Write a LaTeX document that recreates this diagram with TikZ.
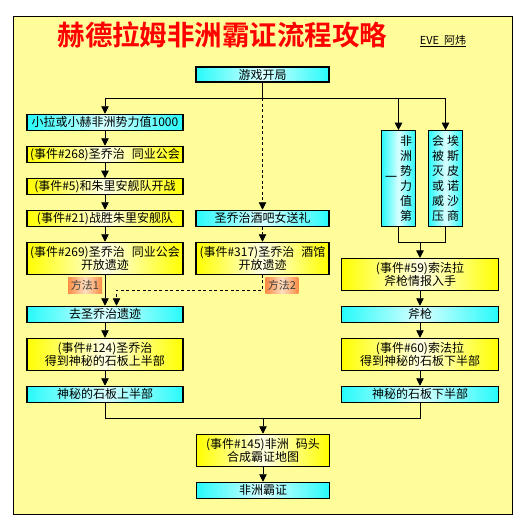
\documentclass[tikz,border=0pt]{standalone}
\usepackage{fontspec}
\setmainfont{Noto Sans CJK SC}
\newfontfamily\titlefont{Noto Sans CJK SC Bold}
\usetikzlibrary{arrows.meta,calc}
\definecolor{bgyel}{RGB}{255,253,153}
\definecolor{cyanA}{RGB}{40,250,250}
\definecolor{yelA}{RGB}{255,255,0}
\definecolor{orgA}{RGB}{250,140,70}
\tikzset{
  box/.style={draw=black,line width=1.1pt,inner sep=0pt,align=center,
    font=\fontsize{12}{13.5}\selectfont},
  cbox/.style={box,left color=cyanA,right color=cyanA,middle color=white!85!cyan},
  ybox/.style={box,left color=yelA,right color=yelA,middle color=white!90!yellow},
  tag/.style={inner sep=0pt,minimum width=34pt,minimum height=15.5pt,
    left color=orgA,right color=orgA,middle color=orange!25!white,
    font=\fontsize{11}{11}\selectfont,text=black!75},
  arr/.style={line width=0.9pt,-{Triangle[width=7.5pt,length=7.5pt]}},
  ln/.style={line width=0.9pt},
  dsh/.style={dash pattern=on 3pt off 2.5pt}
}
\begin{document}
\begin{tikzpicture}[x=1pt,y=-1pt]
\useasboundingbox (0,0) rectangle (526,531);
\fill[white] (0,0) rectangle (526,531);
\filldraw[fill=bgyel,draw=black,line width=0.9pt] (13,16) rectangle (512,514);
\node[text=red,font=\titlefont\fontsize{27.5}{28}\selectfont] (title) at (222.5,35) {赫德拉姆非洲霸证流程攻略};
\node[font=\fontsize{11}{11}\selectfont] (author) at (443,41) {\underline{EVE\ \ 阿炜}};

\node[cbox,minimum width=133pt,minimum height=15pt] (start) at (262.5,74.5) {游戏开局};

% left column
\node[cbox,minimum width=156pt,minimum height=16pt] (b1) at (105,122.3) {小拉或小赫非洲势力值1000};
\node[ybox,minimum width=156pt,minimum height=16pt] (b2) at (105,154.3) {(事件\#268)圣乔治\hspace{0.6em}同业公会};
\node[ybox,minimum width=156pt,minimum height=16pt] (b3) at (105,186.7) {(事件\#5)和朱里安舰队开战};
\node[ybox,minimum width=156pt,minimum height=16pt] (b4) at (105,218.3) {(事件\#21)战胜朱里安舰队};
\node[ybox,minimum width=156pt,minimum height=32pt] (b5) at (105,258.3) {(事件\#269)圣乔治\hspace{0.6em}同业公会\\开放遗迹};
\node[cbox,minimum width=156pt,minimum height=16pt] (g1) at (105,314.3) {去圣乔治遗迹};
\node[ybox,minimum width=156pt,minimum height=32pt] (g2) at (105,354.3) {(事件\#124)圣乔治\\得到神秘的石板上半部};
\node[cbox,minimum width=156pt,minimum height=16pt] (g3) at (105,394.3) {神秘的石板上半部};

% middle column
\node[cbox,minimum width=133pt,minimum height=16pt] (m1) at (262.5,218.3) {圣乔治酒吧女送礼};
\node[ybox,minimum width=133pt,minimum height=32pt] (m2) at (262.5,258.3) {(事件\#317)圣乔治\hspace{0.6em}酒馆\\开放遗迹};

% right column
\node[cbox,minimum width=34.4pt,minimum height=95.6pt] (v1) at (398.5,178.5) {%
  \begin{minipage}[c]{12pt}\centering 一\end{minipage}\hspace{3pt}%
  \begin{minipage}[c]{12pt}\centering\fontsize{12}{15}\selectfont 非\\洲\\势\\力\\值\\第\end{minipage}};
\node[cbox,minimum width=34.4pt,minimum height=95.6pt] (v2) at (445.5,178.5) {%
  \begin{minipage}[c]{12pt}\centering\fontsize{12}{15}\selectfont 会\\被\\灭\\或\\威\\压\end{minipage}\hspace{3pt}%
  \begin{minipage}[c]{12pt}\centering\fontsize{12}{15}\selectfont 埃\\斯\\皮\\诺\\沙\\商\end{minipage}};
\node[ybox,minimum width=157pt,minimum height=32pt] (r1) at (420,274.5) {(事件\#59)索法拉\\斧枪情报入手};
\node[cbox,minimum width=157pt,minimum height=16pt] (r2) at (420,314.3) {斧枪};
\node[ybox,minimum width=157pt,minimum height=32pt] (r3) at (420,354.3) {(事件\#60)索法拉\\得到神秘的石板下半部};
\node[cbox,minimum width=157pt,minimum height=16pt] (r4) at (420,394.3) {神秘的石板下半部};

% bottom
\node[ybox,minimum width=133pt,minimum height=32pt] (f1) at (263,450.3) {(事件\#145)非洲\hspace{0.6em}码头\\合成霸证地图};
\node[cbox,minimum width=133pt,minimum height=16pt] (f2) at (263,490.3) {非洲霸证};

% tags
\node[tag] (t1) at (85,285.3) {方法1};
\node[tag,minimum width=32.6pt] (t2) at (282,285.3) {方法2};

% connectors
\coordinate (split) at (262.5,98);
\coordinate (rj) at (420,242.3);
\coordinate (bj) at (263,418.3);
\coordinate (dj) at (262.5,290);

\draw[ln] (start.south) -- (split);
\draw[ln] (split -| b1) -- (split -| v2);
\draw[arr] (b1 |- split) -- (b1.north);
\draw[arr] (v1 |- split) -- (v1.north);
\draw[arr] (v2 |- split) -- (v2.north);
\draw[arr,dsh] (split) -- (m1.north);
\draw[arr,dsh] (m1.south) -- (m2.north);
\draw[arr] (b1) -- (b2);
\draw[arr] (b2) -- (b3);
\draw[arr] (b3) -- (b4);
\draw[arr] (b4) -- (b5);
\draw[arr] (b5) -- (g1);
\draw[arr,dsh] (m2.south) -- (dj) -| ($(g1.north)+(11.5,0)$);
\draw[arr] (g1) -- (g2);
\draw[arr] (g2) -- (g3);
\draw[ln] (v1.south) |- (rj) -| (v2.south);
\draw[arr] (rj) -- (r1.north);
\draw[arr] (r1) -- (r2);
\draw[arr] (r2) -- (r3);
\draw[arr] (r3) -- (r4);
\draw[ln] (g3.south) |- (bj) -| (r4.south);
\draw[arr] (bj) -- (f1.north);
\draw[arr] (f1) -- (f2);
\end{tikzpicture}
\end{document}
